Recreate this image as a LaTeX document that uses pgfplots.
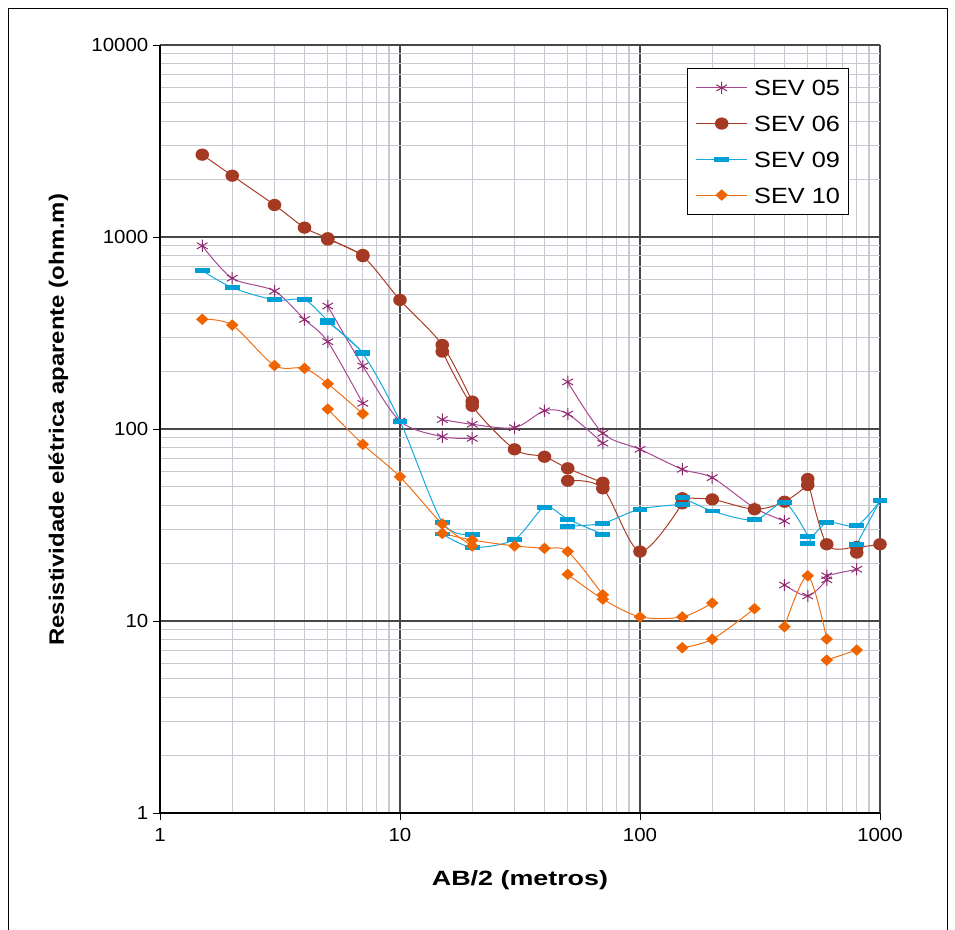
\documentclass[border=0pt]{standalone}
\usepackage{fontspec}
\setmainfont{Liberation Sans}
\newfontfamily\fticks[FakeStretch=1.08]{Liberation Sans}
\newfontfamily\fleg[FakeStretch=1.15]{Liberation Sans}
\newfontfamily\fylab[FakeStretch=1.15]{Liberation Sans}
\newfontfamily\fxlab[FakeStretch=1.3]{Liberation Sans}
\usepackage{pgfplots}
\pgfplotsset{compat=1.18}

\definecolor{c05line}{RGB}{168,72,148}
\definecolor{c05mark}{RGB}{140,40,110}
\definecolor{c06line}{RGB}{168,62,40}
\definecolor{c06mark}{RGB}{165,58,36}
\definecolor{c09line}{RGB}{20,170,222}
\definecolor{c09mark}{RGB}{0,160,215}
\definecolor{c10line}{RGB}{240,112,20}
\definecolor{c10mark}{RGB}{240,100,0}
\definecolor{mingrid}{RGB}{200,200,208}

\pgfdeclareplotmark{hbar}{\pgfpathrectangle{\pgfqpoint{-5.6pt}{-1.85pt}}{\pgfqpoint{11.2pt}{3.7pt}}\pgfusepathqfill}
\pgfdeclareplotmark{dmd}{\pgfpathmoveto{\pgfqpoint{0pt}{4.3pt}}\pgfpathlineto{\pgfqpoint{4.7pt}{0pt}}\pgfpathlineto{\pgfqpoint{0pt}{-4.3pt}}\pgfpathlineto{\pgfqpoint{-4.7pt}{0pt}}\pgfpathclose\pgfusepathqfill}
\pgfdeclareplotmark{blob}{\pgfpathellipse{\pgfpointorigin}{\pgfqpoint{5.1pt}{0pt}}{\pgfqpoint{0pt}{4.6pt}}\pgfusepathqfill}

\pgfplotsset{
  s05/.style={color=c05line, line width=0.75pt, smooth, tension=0.5, mark=asterisk, mark size=4.6pt, mark options={solid, draw=c05mark, line width=0.75pt}},
  s06/.style={color=c06line, line width=0.75pt, smooth, tension=0.5, mark=blob, mark options={solid, fill=c06mark, draw=none}},
  s09/.style={color=c09line, line width=0.75pt, smooth, tension=0.5, mark=hbar, mark options={solid, fill=c09mark, draw=none}},
  s10/.style={color=c10line, line width=0.75pt, smooth, tension=0.5, mark=dmd, mark options={solid, fill=c10mark, draw=none}},
}

\begin{document}
\begin{tikzpicture}
\path[use as bounding box] (0,0) rectangle (716.25pt,696.75pt);
\draw[line width=0.75pt] (6.4pt,-1pt) -- (6.4pt,690.5pt) -- (710.25pt,690.5pt) -- (710.25pt,-1pt);
\begin{axis}[
  at={(120pt,87pt)}, anchor=south west,
  scale only axis, width=540pt, height=576pt,
  xmode=log, ymode=log,
  xmin=1, xmax=1000, ymin=1, ymax=10000,
  axis x line*=bottom, axis y line*=left,
  xtick={1,10,100,1000}, xticklabels={1,10,100,1000},
  ytick={1,10,100,1000,10000}, yticklabels={1,10,100,1000,10000},
  minor xtick={2,3,4,5,6,7,8,9,20,30,40,50,60,70,80,90,200,300,400,500,600,700,800,900},
  minor ytick={2,3,4,5,6,7,8,9,20,30,40,50,60,70,80,90,200,300,400,500,600,700,800,900,2000,3000,4000,5000,6000,7000,8000,9000},
  grid=both,
  major grid style={draw=black!72, line width=0.8pt},
  minor grid style={draw=mingrid, line width=0.8pt},
  tick align=outside,
  major tick length=5.25pt, minor tick length=0pt,
  tick style={black, line width=0.75pt},
  axis line style={black, line width=0.8pt, -},
  ticklabel style={font=\fticks\fontsize{14.2pt}{16pt}\selectfont},
  xticklabel style={yshift=-3pt},
  xlabel={AB/2 (metros)},
  ylabel={Resistividade elétrica aparente (ohm.m)},
  xlabel style={font=\fxlab\bfseries\fontsize{15.5pt}{18pt}\selectfont, at={(axis description cs:0.5,-0.0872)}, anchor=center},
  ylabel style={font=\fylab\bfseries\fontsize{15.6pt}{18pt}\selectfont, at={(axis description cs:-0.141,0.512)}, anchor=center},
  clip=false,
  legend style={at={(axis description cs:0.7315,0.9697)}, anchor=north west,
    draw=black, line width=0.75pt, fill=white,
    font=\fleg\fontsize{16.5pt}{19pt}\selectfont,
    inner xsep=6.5pt, inner ysep=8.3pt, row sep=14.8pt, column sep=5pt,
    nodes={inner sep=0pt, text height=12pt, text depth=0pt}},
  legend cell align=left,
  legend image code/.code={\draw[mark repeat=2,mark phase=2,#1] plot coordinates {(0pt,0pt) (19pt,0pt) (38pt,0pt)};},
]
% ---------------- SEV 05
\addplot[s05] coordinates {(1.5,900)(2,610)(3,523)(4,372)(5,285)(7,136)};
\addlegendentry{SEV 05}
\addplot[s05, forget plot] coordinates {(5,437)(7,213)(10,110)(15,91.2)(20,89.4)};
\addplot[s05, forget plot] coordinates {(15,112)(20,105.8)(30,101.6)(40,124.5)(50,119.7)(70,84.3)};
\addplot[s05, forget plot] coordinates {(50,176)(70,95)(100,78.4)(150,61.7)(200,55.8)(300,38.8)(400,33.2)};
\addplot[s05, forget plot] coordinates {(400,15.4)(500,13.5)(600,16.4)(600,17.2)(800,18.6)};
% ---------------- SEV 06
\addplot[s06] coordinates {(1.5,2684)(2,2086)(3,1468)(4,1119)(5,985)(7,806)};
\addlegendentry{SEV 06}
\addplot[s06, forget plot] coordinates {(5,970)(7,795)(10,470)(15,274)(20,139)};
\addplot[s06, forget plot] coordinates {(15,253)(20,132)(30,78.4)(40,71.7)(50,62.4)(70,52.5)};
\addplot[s06, forget plot] coordinates {(50,53.8)(70,49.1)(100,23.0)(150,41.0)};
\addplot[s06, forget plot] coordinates {(150,43.6)(200,43.0)(300,38.2)(400,41.8)(500,51.1)};
\addplot[s06, forget plot] coordinates {(500,54.9)(600,25.1)(800,24.3)(1000,25.1)};
\addplot[s06, only marks, forget plot] coordinates {(800,22.7)};
% ---------------- SEV 09
\addplot[s09] coordinates {(1.5,668)(2,545)(3,470)(4,470)(5,367)(7,251)};
\addlegendentry{SEV 09}
\addplot[s09, forget plot] coordinates {(5,360)(7,247)(10,110)(15,32.7)(20,28.3)};
\addplot[s09, forget plot] coordinates {(15,28.4)(20,24.2)(30,26.6)(40,39.1)(50,33.9)(70,28.3)};
\addplot[s09, forget plot] coordinates {(50,31.2)(70,32.3)(100,38.3)(150,40.5)};
\addplot[s09, forget plot] coordinates {(150,44.1)(200,37.4)(300,33.6)(400,41.3)(500,27.7)};
\addplot[s09, forget plot] coordinates {(500,25.4)(600,32.5)(800,31.4)(1000,42.3)};
\addplot[s09, forget plot] coordinates {(800,25.1)(1000,42.3)};
% ---------------- SEV 10
\addplot[s10] coordinates {(1.5,373)(2,348)(3,214)(4,207)(5,172)(7,120)};
\addlegendentry{SEV 10}
\addplot[s10, forget plot] coordinates {(5,127)(7,83.2)(10,56.4)(15,32.0)(20,24.6)};
\addplot[s10, forget plot] coordinates {(15,28.6)(20,26.4)(30,24.6)(40,23.9)(50,23.0)(70,13.7)};
\addplot[s10, forget plot] coordinates {(50,17.5)(70,13.0)(100,10.5)(150,10.5)(200,12.4)};
\addplot[s10, forget plot] coordinates {(150,7.26)(200,8.03)(300,11.6)};
\addplot[s10, forget plot] coordinates {(400,9.34)(500,17.2)(600,8.06)};
\addplot[s10, forget plot] coordinates {(600,6.26)(800,7.06)};
\end{axis}
\end{tikzpicture}
\end{document}
